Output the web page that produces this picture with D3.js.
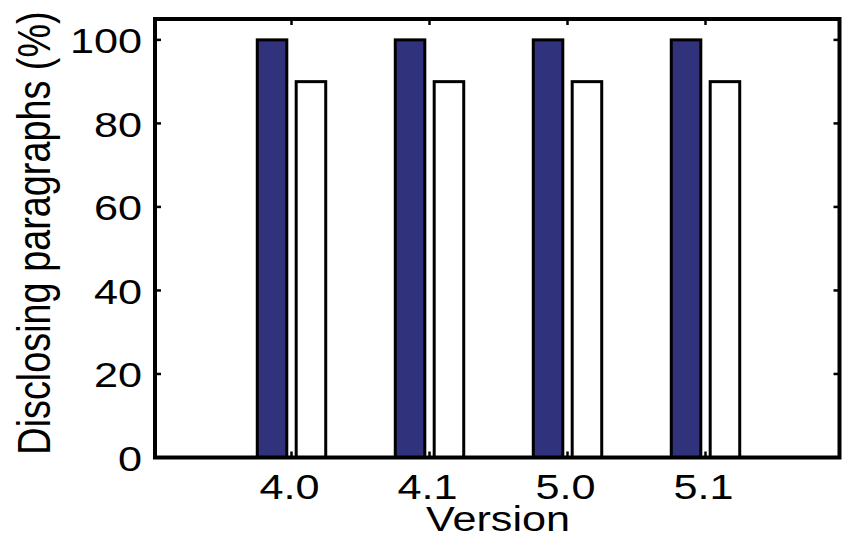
<!DOCTYPE html>
<html>
<head>
<meta charset="utf-8">
<script src="https://cdn.jsdelivr.net/npm/d3@7/dist/d3.min.js"></script>
<style>
  html, body { margin: 0; padding: 0; background: #fff; }
  svg { display: block; }
  text { font-family: "Liberation Sans", Arial, Helvetica, sans-serif; fill: #000; }
</style>
</head>
<body>
<svg id="chart" width="842" height="539"></svg>
<script>
// Share of disclosing paragraphs per version, two series
const versions = ["4.0", "4.1", "5.0", "5.1"];
const seriesA = [100, 100, 100, 100];
const seriesB = [90, 90, 90, 90];
const yTicks = [0, 20, 40, 60, 80, 100];

const svg = d3.select("#chart");
const plot = { left: 155, right: 839.5, top: 19, bottom: 457.5 };

// Group centres on a linear index scale, the frame sits slightly beyond them
const x = d3.scaleLinear().domain([1, versions.length]).range([291.5, 705.5]);
const y = d3.scaleLinear().domain([0, 105]).range([plot.bottom, plot.top]);

const barW = 0.214;   // bar width in index units
const off = 0.141;    // offset of each bar from the group centre
const fontSize = 36;
const stretch = 1.2;  // horizontal glyph stretch

const g = svg.append("g");

// Bars
const bars = g.append("g");
versions.forEach((v, i) => {
  const c = i + 1;
  bars.append("rect")
    .attr("x", x(c - off - barW / 2))
    .attr("width", x(c - off + barW / 2) - x(c - off - barW / 2))
    .attr("y", y(seriesA[i]))
    .attr("height", y(0) - y(seriesA[i]))
    .attr("fill", "#31327c")
    .attr("stroke", "#000")
    .attr("stroke-width", 3);
  bars.append("rect")
    .attr("x", x(c + off - barW / 2))
    .attr("width", x(c + off + barW / 2) - x(c + off - barW / 2))
    .attr("y", y(seriesB[i]))
    .attr("height", y(0) - y(seriesB[i]))
    .attr("fill", "#fff")
    .attr("stroke", "#000")
    .attr("stroke-width", 3);
});

// Inward ticks on all four sides
const ticks = g.append("g").attr("stroke", "#000").attr("stroke-width", 2.5);
const tl = 6;
yTicks.forEach(t => {
  ticks.append("line").attr("x1", plot.left).attr("x2", plot.left + tl).attr("y1", y(t)).attr("y2", y(t));
  ticks.append("line").attr("x1", plot.right).attr("x2", plot.right - tl).attr("y1", y(t)).attr("y2", y(t));
});
versions.forEach((v, i) => {
  ticks.append("line").attr("x1", x(i + 1)).attr("x2", x(i + 1)).attr("y1", plot.top).attr("y2", plot.top + tl);
  ticks.append("line").attr("x1", x(i + 1)).attr("x2", x(i + 1)).attr("y1", plot.bottom).attr("y2", plot.bottom - tl);
});

// Frame
g.append("rect")
  .attr("x", plot.left).attr("y", plot.top)
  .attr("width", plot.right - plot.left).attr("height", plot.bottom - plot.top)
  .attr("fill", "none").attr("stroke", "#000").attr("stroke-width", 4);

// Y tick labels
yTicks.forEach(t => {
  g.append("text")
    .attr("transform", `translate(${142},${y(t) + 13.5}) scale(${stretch},1)`)
    .attr("text-anchor", "end")
    .attr("font-size", fontSize)
    .text(t);
});

// X tick labels
versions.forEach((v, i) => {
  g.append("text")
    .attr("transform", `translate(${x(i + 1) - 2},${499}) scale(${stretch},1)`)
    .attr("text-anchor", "middle")
    .attr("font-size", fontSize)
    .text(v);
});

// Axis titles
g.append("text")
  .attr("transform", `translate(${498},${531}) scale(${stretch},1)`)
  .attr("text-anchor", "middle")
  .attr("font-size", 36)
  .text("Version");

g.append("text")
  .attr("transform", `translate(${50},${233}) scale(${stretch},1) rotate(-90)`)
  .attr("text-anchor", "middle")
  .attr("font-size", 37.8)
  .text("Disclosing paragraphs (%)");
</script>
</body>
</html>
